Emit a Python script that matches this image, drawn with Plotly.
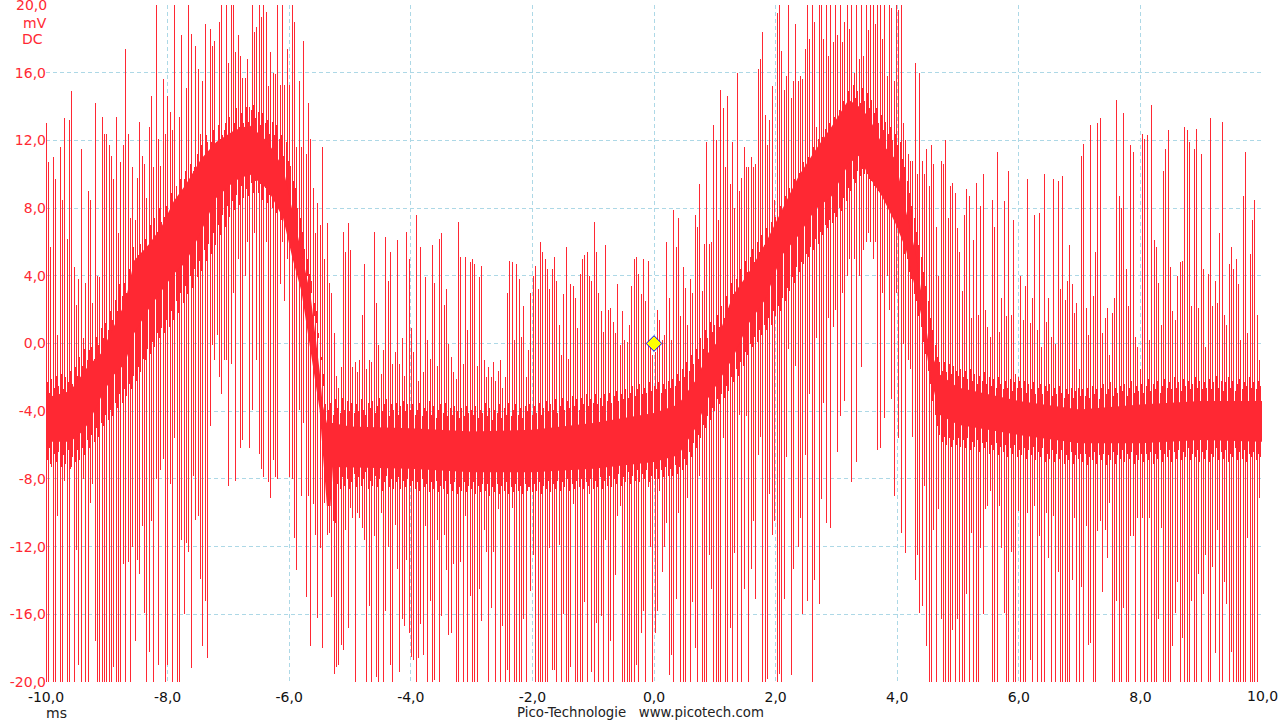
import numpy as np
import plotly.graph_objects as go

# spike upper tips, one list per millisecond, in mV (values above 20 run off the scale)
high_ms = [
 [13.0,10.7,5.7,11.0,9.7,0.5,11.6,8.5,13.3,6.2,13.2,14.9,4.5,2.3,3.8,11.5,0.3,3.6,9.0,8.5,2.4,14.2,4.0,3.9,13.4,12.4],
 [12.4,11.7,11.1,9.7,13.4,6.5,10.7,11.7,17.4,12.4,7.4,10.4,7.3,9.8,13.1,11.1,10.6,8.6,12.8,14.6,10.4,20.5,12.1,10.5,15.6,12.4],
 [14.6,13.7,12.6,20.5,8.1,13.4,18.2,9.7,15.1,20.5,18.3,10.2,17.6,16.2,12.4,15.5,18.9,11.9,18.6,17.6,17.9,11.3,19.0,20.5,12.6,20.5],
 [16.6,20.5,20.5,17.2,18.2,17.0,15.7,15.7,16.8,14.0,20.5,18.4,18.7,20.5,19.3,20.5,19.6,15.2,17.2,16.0,15.9,20.5,15.3,20.5,15.3,17.4],
 [15.3,20.5,19.0,11.6,15.5,11.6,17.9,11.2,14.2,12.1,9.2,6.5,8.3,7.0,11.6,5.0,7.1,3.6,3.0,0.6,-1.9,-2.6,-1.4,6.6,5.4,7.1],
 [5.5,-1.4,-1.1,-1.7,-1.0,1.7,4.7,-1.5,-1.0,-1.1,6.6,2.4,-0.1,-1.8,-0.4,6.3,3.7,5.4,-1.2,-0.5,6.1,-1.2,0.3,-1.9,6.6,5.0],
 [0.9,-0.5,7.6,-2.2,5.7,-1.7,3.9,0.2,-0.9,5.8,3.6,-1.3,6.2,6.5,2.3,3.2,0.0,-0.8,-1.7,-2.1,7.2,5.1,-1.2,5.1,0.8,4.8],
 [5.0,4.7,-1.3,3.9,4.6,-1.0,-2.0,-1.4,-2.0,-1.1,-2.2,-1.6,-1.0,-2.6,-2.0,3.0,4.9,4.8,0.2,4.7,3.8,0.4,2.2,-2.0,-0.4,3.0],
 [4.0,4.6,3.2,6.0,5.4,5.0,4.4,3.2,4.4,5.1,3.7,1.1,-0.7,2.9,5.7,-0.9,3.5,3.4,2.7,0.9,4.1,5.0,5.2,5.4,4.0,3.7],
 [7.2,5.4,3.0,1.9,0.7,5.8,2.0,2.1,1.3,0.6,3.5,-0.1,1.9,0.2,0.1,1.1,3.4,5.0,5.1,4.1,2.9,5.0,2.5,4.9,0.2,-0.7],
 [-0.5,2.0,1.4,0.2,0.5,6.0,2.7,0.2,7.9,5.7,7.4,1.6,4.5,3.3,1.1,3.8,3.0,7.6,6.9,9.4,3.1,5.9,11.9,5.9,6.0,12.9],
 [12.0,7.3,15.0,13.9,10.4,14.6,9.4,11.9,8.0,16.0,9.0,9.8,11.6,10.4,10.4,11.0,10.4,10.6,16.2,16.8,18.4,13.5,11.7,13.2,15.2,8.5],
 [19.5,20.5,17.3,15.0,15.8,20.5,14.5,15.5,18.9,15.5,15.8,15.6,17.4,20.5,18.0,20.5,19.0,12.8,20.5,20.5,18.0,20.5,17.0,20.5,17.8,20.5],
 [18.2,20.5,17.8,19.0,20.5,18.6,20.5,16.0,20.5,16.8,20.5,17.0,20.5,18.5,20.5,20.5,18.9,20.5,20.5,18.0,20.5,15.8,20.5,19.8,15.5,20.5],
 [19.7,20.0,13.0,12.0,11.2,10.8,10.8,16.6,10.0,16.0,10.8,10.0,11.5,9.3,11.7,10.6,6.9,4.0,10.8,10.6,12.0,7.4,9.3,9.5,8.9,6.8],
 [5.4,3.1,7.6,9.1,8.7,1.5,6.1,9.5,1.7,8.1,10.0,2.0,1.0,0.4,8.5,6.9,11.3,0.7,2.7,8.4,1.6,10.2,1.7,7.3,-1.8,-2.0],
 [4.0,1.4,3.4,9.7,1.2,2.7,7.6,0.8,7.7,-0.2,10.0,1.3,2.7,0.4,9.7,0.0,9.6,3.2,9.9,2.6,3.7,5.8,3.5,1.8,2.4,-1.5],
 [11.1,11.8,2.1,0.5,12.9,2.8,5.4,13.0,13.3,0.6,1.5,2.1,-0.7,1.8,2.7,14.4,8.7,8.0,13.6,4.4,2.2,11.7,11.3,0.4,-0.2,-1.5],
 [12.4,12.1,12.3,0.2,14.1,6.1,5.7,3.6,1.1,10.2,11.5,12.6,4.5,1.9,1.4,4.0,4.8,4.9,12.8,12.6,11.9,2.2,11.5,12.7,2.1,11.2],
 [4.4,-0.2,4.1,13.3,2.2,3.7,2.4,6.5,13.1,1.7,1.1,4.7,5.7,4.4,5.0,3.5,0.2,8.7,11.3,0.6,5.3,7.3,8.5,1.7,-1.0,1.7],
]
# spike lower tips, one list per millisecond, in mV
low_ms = [
 [-20.5,-20.5,-7.1,-20.5,-20.5,-10.2,-20.5,-20.5,-8.1,-20.5,-20.5,-7.3,-20.5,-12.2,-19.0,-20.5,-8.0,-20.5,-20.5,-9.4,-8.3,-17.6,-20.5,-20.5,-20.5,-20.5],
 [-20.5,-20.5,-20.5,-19.1,-20.5,-20.5,-20.5,-13.0,-20.5,-12.9,-20.5,-12.0,-17.6,-12.8,-13.6,-10.8,-15.9,-20.5,-18.2,-10.5,-20.5,-8.0,-19.0,-7.5,-6.8,-20.5],
 [-19.0,-8.3,-20.5,-5.6,-20.5,-20.5,-11.6,-16.0,-11.8,-12.3,-19.2,-7.8,-10.4,-10.2,-13.9,-17.9,-15.2,-18.6,-4.9,-0.1,-1.0,0.5,-2.0,-3.0,-1.0,-1.0],
 [-8.4,-1.2,3.0,-8.1,5.0,-6.2,-5.7,4.0,6.0,-6.2,-3.9,6.5,-1.0,-6.5,-7.4,-7.9,6.0,-8.2,-9.1,-6.9,-7.9,-8.0,3.5,6.0,2.5,5.0],
 [-7.9,-8.0,-11.5,-13.4,-3.9,-9.0,-4.7,-15.0,-9.0,-17.9,-9.5,-11.3,-16.2,-12.1,-18.0,-9.4,-11.3,-11.2,-15.0,-19.5,-19.1,-19.0,-17.8,-18.1,-11.0,-16.8],
 [-9.7,-10.3,-20.5,-10.0,-10.3,-10.9,-11.6,-20.5,-15.5,-20.5,-11.4,-19.7,-20.5,-10.0,-20.5,-15.8,-12.0,-19.0,-20.5,-10.7,-13.3,-19.4,-16.3,-16.7,-12.8,-17.1],
 [-18.5,-18.7,-20.5,-18.6,-16.6,-18.4,-10.8,-20.5,-15.2,-20.5,-19.9,-11.6,-20.5,-16.1,-11.3,-13.4,-17.2,-17.1,-13.0,-20.5,-20.5,-12.9,-20.5,-10.2,-20.5,-14.9],
 [-20.5,-20.5,-20.5,-14.5,-16.4,-11.0,-12.3,-20.5,-15.6,-12.3,-20.5,-9.8,-20.5,-16.7,-20.5,-19.3,-20.5,-9.7,-20.5,-20.5,-20.5,-20.5,-16.3,-20.5,-8.5,-14.6],
 [-12.5,-20.5,-20.5,-20.5,-20.5,-20.5,-20.5,-12.1,-19.3,-19.3,-20.5,-11.9,-20.5,-16.0,-20.5,-20.5,-19.1,-9.5,-20.5,-20.5,-20.5,-20.5,-15.3,-20.5,-8.9,-19.4],
 [-20.5,-16.5,-20.5,-16.1,-20.5,-11.6,-20.5,-17.6,-20.5,-13.7,-10.2,-9.6,-20.5,-20.5,-20.5,-20.5,-20.5,-20.5,-19.0,-20.5,-17.1,-15.8,-20.5,-8.5,-12.0,-20.5],
 [-17.1,-15.8,-8.7,-13.5,-12.0,-10.6,-19.6,-18.4,-20.5,-15.1,-10.0,-20.5,-20.5,-20.5,-9.1,-20.5,-15.3,-18.0,-20.5,-7.8,-20.5,-20.5,-20.5,-12.5,-14.5,-20.5],
 [-20.5,-20.5,-20.5,-5.6,-20.5,-20.5,-16.8,-20.5,-12.4,-20.5,-4.2,-20.5,-14.5,-4.3,-20.5,-13.3,-10.5,-15.1,-6.6,-5.5,-20.5,-20.5,-19.8,-8.9,-11.3,-10.5],
 [-20.5,-19.5,-20.5,-15.1,-6.7,-0.3,-19.6,-13.3,-1.3,-12.0,-10.3,-16.0,-6.6,-15.2,-3.0,-20.5,-14.0,0.3,-15.4,-9.2,-3.5,-10.6,1.5,-10.9,1.0,2.0],
 [-6.4,-4.3,3.0,-3.4,4.0,5.0,-8.2,5.0,-7.0,4.0,-1.4,5.5,6.0,6.5,6.0,5.0,6.0,-6.3,-6.2,3.0,-4.4,4.0,2.0,-3.3,-9.0,3.0],
 [-5.6,-11.2,0.0,-12.4,-1.0,-1.5,-5.5,-14.0,-12.5,-15.9,-15.5,-8.4,-17.9,-20.5,-20.5,-11.0,-20.5,-9.8,-16.3,-20.5,-20.5,-20.5,-20.5,-16.9,-20.5,-16.3],
 [-20.5,-20.3,-20.5,-14.8,-20.5,-11.2,-20.5,-20.5,-20.5,-12.1,-16.0,-9.8,-9.6,-8.7,-20.5,-20.5,-20.5,-9.6,-12.1,-15.9,-20.5,-20.5,-12.3,-20.5,-20.5,-9.9],
 [-20.5,-20.5,-20.5,-10.0,-18.7,-20.5,-9.6,-20.5,-11.4,-20.5,-20.5,-10.0,-12.7,-20.5,-10.2,-20.5,-13.5,-20.5,-20.5,-20.5,-20.5,-20.5,-14.0,-10.3,-20.5,-20.5],
 [-14.4,-20.5,-10.8,-17.8,-17.7,-20.5,-20.5,-11.1,-10.5,-14.7,-11.0,-12.7,-9.4,-20.5,-20.5,-15.2,-20.5,-20.5,-15.6,-20.5,-20.5,-11.4,-11.4,-20.5,-10.3,-20.5],
 [-10.3,-20.5,-20.5,-10.3,-20.5,-20.5,-20.5,-16.3,-10.9,-20.5,-20.5,-20.5,-20.5,-17.9,-15.9,-14.1,-20.5,-17.4,-20.5,-20.5,-20.5,-15.2,-20.5,-20.5,-13.6,-20.5],
 [-14.8,-12.5,-20.5,-20.5,-13.2,-18.3,-11.0,-20.5,-20.5,-14.1,-15.4,-20.5,-18.2,-20.5,-20.5,-20.5,-20.5,-20.5,-20.5,-11.5,-20.5,-20.5,-20.5,-20.5,-9.1,-9.1],
]
# jagged top edge of the dense centre, one list per millisecond, in mV
edge_top_ms = [
 [-2.3,-2.9,-2.1,-2.6,-1.9,-2.5,-1.8,-2.7,-2.0,-2.3,-1.6,-2.4,-1.4,-1.9,-0.8,-1.3,-0.3,-1.0,-0.4,-0.2,-0.9,0.4,-0.1,0.9,0.3,1.2],
 [0.8,1.9,1.4,2.6,1.9,3.5,2.8,3.6,3.0,4.4,3.7,5.7,4.9,5.2,5.9,4.9,6.2,5.5,7.0,6.1,7.4,6.6,8.0,7.2,7.5,8.1],
 [7.4,8.9,7.9,9.3,8.5,9.7,9.0,10.2,9.4,10.6,9.8,10.4,11.2,10.3,11.7,10.7,12.3,11.2,11.9,12.6,11.4,12.9,12.1,12.3,13.0,12.2],
 [13.4,12.5,13.0,13.9,12.8,13.6,13.0,14.0,13.1,13.8,14.1,13.3,13.7,12.9,13.6,13.0,13.2,12.4,13.1,12.3,12.9,12.1,12.3,11.1,11.9,10.8],
 [10.5,9.6,9.2,8.0,7.4,6.6,5.6,5.0,4.1,3.7,2.4,1.2,0.3,-1.0,-2.5,-3.6,-3.9,-3.5,-4.2,-3.3,-3.8,-4.1,-3.2,-3.9,-3.4,-4.0],
 [-3.5,-4.1,-3.6,-4.0,-3.3,-3.9,-4.2,-3.5,-3.8,-3.4,-4.1,-3.7,-3.2,-4.0,-3.6,-3.3,-4.3,-3.6,-3.9,-3.5,-4.2,-3.7,-3.4,-4.0,-3.6,-3.9],
 [-3.6,-4.2,-3.9,-3.5,-4.3,-3.8,-4.0,-3.4,-4.2,-3.7,-4.4,-3.9,-3.6,-4.1,-3.5,-4.3,-3.8,-4.2,-3.7,-4.0,-4.4,-3.8,-4.3,-3.7,-4.1,-3.9],
 [-4.2,-3.7,-4.4,-3.9,-4.1,-3.5,-4.3,-3.8,-4.5,-3.9,-4.1,-3.6,-4.4,-3.8,-4.2,-3.5,-4.3,-3.9,-3.6,-4.2,-3.8,-4.4,-3.7,-4.0,-3.6,-4.2],
 [-3.7,-4.1,-3.5,-4.2,-3.8,-3.4,-4.0,-3.6,-3.9,-3.3,-4.1,-3.7,-3.2,-3.9,-3.4,-3.8,-3.1,-3.7,-3.3,-3.9,-3.2,-3.6,-3.0,-3.7,-3.3,-3.5],
 [-3.0,-3.6,-3.2,-3.7,-3.0,-3.4,-2.9,-3.5,-3.1,-2.8,-3.4,-3.0,-3.3,-2.7,-3.2,-2.9,-2.5,-3.1,-2.7,-2.4,-3.0,-2.6,-2.9,-2.3,-2.8,-2.5],
 [-2.7,-2.3,-2.9,-2.4,-2.7,-2.2,-2.6,-2.1,-2.5,-1.8,-2.2,-1.5,-2.0,-1.1,-1.6,-0.7,-1.2,-0.3,-0.9,0.3,-0.3,0.8,0.3,1.3,0.7,1.1],
 [1.7,1.0,2.2,1.5,2.8,2.1,3.6,2.9,3.8,3.2,4.4,3.7,4.9,4.2,5.1,5.6,4.8,6.0,5.4,6.4,5.8,6.8,6.1,7.2,6.6,7.5],
 [7.0,8.1,7.4,8.7,8.0,9.2,8.5,9.7,9.0,10.1,9.5,10.7,10.0,11.0,10.4,11.6,10.9,12.1,11.4,12.2,12.7,11.9,13.0,12.4,13.4,12.8],
 [13.8,13.2,14.3,13.6,14.9,14.2,15.3,14.5,14.9,14.2,15.1,14.3,14.8,13.9,14.4,13.6,13.9,13.0,13.5,12.6,13.1,12.4,12.8,12.0,12.4,11.7],
 [11.9,10.9,10.4,9.6,8.9,8.1,7.4,6.6,5.8,5.1,4.2,3.4,2.5,1.5,0.8,-0.1,-0.8,-1.1,-1.6,-1.1,-1.7,-1.2,-1.8,-1.3,-1.6,-1.9],
 [-1.5,-2.0,-1.6,-2.1,-1.5,-2.2,-1.8,-2.4,-1.9,-2.2,-1.7,-2.4,-2.0,-2.5,-2.1,-2.6,-2.0,-2.4,-2.7,-2.2,-2.6,-2.1,-2.8,-2.3,-2.6,-2.2],
 [-2.6,-2.2,-2.9,-2.4,-2.7,-2.3,-3.0,-2.6,-2.4,-3.0,-2.5,-2.8,-2.4,-3.1,-2.6,-3.0,-2.5,-2.9,-3.2,-2.7,-3.0,-2.6,-3.2,-2.8,-2.6,-3.1],
 [-2.7,-3.1,-2.6,-3.2,-2.5,-3.0,-2.7,-3.3,-2.6,-2.4,-3.0,-2.7,-2.3,-3.1,-2.6,-2.9,-2.5,-2.8,-2.4,-3.1,-2.6,-2.2,-2.9,-2.5,-2.8,-2.4],
 [-2.9,-2.5,-2.1,-2.8,-2.4,-2.7,-2.2,-2.9,-2.5,-2.1,-2.6,-2.3,-2.7,-2.0,-2.6,-2.3,-2.8,-2.1,-2.5,-2.2,-2.7,-2.4,-2.0,-2.6,-2.2,-2.7],
 [-2.3,-2.6,-2.1,-2.7,-2.3,-1.9,-2.6,-2.2,-2.8,-2.3,-2.0,-2.6,-2.2,-2.8,-2.4,-2.1,-2.7,-2.3,-2.5,-2.0,-2.6,-2.3,-2.7,-2.2,-2.5,-2.4],
]
# jagged bottom edge of the dense centre, one list per millisecond, in mV
edge_bot_ms = [
 [-6.9,-6.2,-7.3,-6.5,-7.0,-6.4,-7.3,-6.6,-7.1,-6.3,-7.4,-6.7,-7.0,-6.3,-6.9,-6.2,-6.6,-5.7,-6.2,-5.4,-5.8,-5.0,-5.5,-4.7,-4.9,-4.2],
 [-4.5,-3.9,-4.3,-3.5,-3.8,-3.0,-3.5,-2.7,-3.1,-2.4,-2.7,-1.9,-2.2,-1.4,-1.7,-0.9,-1.0,-0.3,-0.6,0.1,-0.2,0.6,0.3,0.9,0.6,1.4],
 [1.0,1.9,1.4,2.5,1.8,3.0,2.4,3.4,2.9,4.0,3.3,4.4,3.9,4.9,4.3,5.5,4.9,5.9,5.3,6.5,5.8,7.0,6.4,7.6,6.9,8.1],
 [7.5,8.4,7.9,8.8,8.2,9.3,8.6,9.1,8.7,9.5,8.9,9.6,8.9,9.4,8.5,9.2,8.3,8.8,8.0,8.6,7.7,8.2,7.3,7.9,6.9,7.3],
 [6.2,6.6,5.5,5.9,4.6,5.0,3.6,4.0,2.7,3.0,1.6,1.9,0.6,-0.8,-1.8,-4.5,-6.0,-8.0,-10.5,-10.6,-8.3,-8.6,-7.9,-8.4,-8.0,-8.6],
 [-8.2,-7.7,-8.5,-7.9,-8.4,-8.0,-7.6,-8.6,-8.1,-8.4,-7.8,-8.5,-8.0,-8.7,-8.2,-7.8,-8.5,-8.0,-8.6,-8.2,-7.9,-8.6,-8.1,-8.5,-8.0,-8.4],
 [-8.1,-8.6,-8.2,-8.7,-8.0,-8.5,-8.3,-8.8,-8.2,-8.6,-8.1,-8.8,-8.4,-8.6,-8.1,-8.9,-8.3,-8.7,-8.2,-8.9,-8.5,-8.7,-8.2,-8.8,-8.4,-8.6],
 [-8.2,-8.9,-8.4,-8.8,-8.3,-8.7,-8.3,-9.0,-8.5,-8.8,-8.3,-8.9,-8.4,-8.7,-8.2,-8.9,-8.5,-8.8,-8.3,-8.7,-8.4,-8.9,-8.3,-8.7,-8.5,-8.8],
 [-8.3,-8.7,-8.2,-8.9,-8.4,-8.6,-8.1,-8.8,-8.3,-8.6,-8.1,-8.7,-8.2,-8.5,-8.0,-8.7,-8.3,-8.6,-8.1,-8.5,-8.0,-8.6,-8.2,-8.4,-8.0,-8.6],
 [-8.1,-8.5,-7.9,-8.6,-8.1,-8.4,-7.8,-8.5,-8.0,-8.3,-7.7,-8.4,-7.9,-8.2,-7.6,-8.3,-7.8,-8.1,-7.5,-8.2,-7.7,-8.0,-7.5,-8.2,-7.8,-8.0],
 [-7.4,-8.0,-7.5,-7.9,-7.3,-7.8,-7.4,-7.8,-7.2,-7.7,-7.3,-7.5,-6.8,-7.2,-6.4,-6.7,-5.9,-6.2,-5.4,-5.6,-4.8,-5.0,-4.3,-4.5,-3.8,-4.0],
 [-3.3,-3.6,-3.0,-3.2,-2.5,-2.8,-2.0,-2.3,-1.5,-1.9,-1.1,-1.3,-0.5,-0.7,0.0,-0.2,0.4,0.1,0.8,0.5,1.1,0.8,1.5,1.1,1.9,1.6],
 [2.2,1.9,2.7,2.5,3.3,3.1,3.9,3.6,4.5,4.2,4.8,4.7,5.3,5.1,5.7,5.5,6.2,5.9,6.6,6.4,7.0,6.8,7.3,7.1,7.7,7.5],
 [8.0,7.8,8.6,8.4,9.2,9.0,9.7,9.5,10.2,9.9,10.3,10.0,10.0,9.7,9.6,9.3,9.4,9.0,8.9,8.6,8.4,8.1,7.9,7.6,7.3,7.0],
 [6.5,6.2,5.3,5.0,4.2,3.8,2.9,2.5,1.6,1.0,0.1,-0.6,-1.6,-2.4,-3.4,-4.2,-4.9,-5.4,-5.8,-5.5,-6.0,-5.6,-6.1,-5.7,-6.0,-5.6],
 [-6.1,-5.7,-6.2,-5.6,-6.3,-5.8,-6.1,-5.7,-6.4,-5.9,-6.2,-5.8,-6.5,-6.0,-6.3,-5.9,-6.6,-6.1,-6.4,-6.0,-6.7,-6.2,-6.5,-6.0,-6.7,-6.3],
 [-6.6,-6.2,-6.8,-6.3,-6.6,-6.1,-6.9,-6.4,-6.7,-6.2,-7.0,-6.5,-6.8,-6.3,-7.0,-6.5,-6.8,-6.3,-7.1,-6.6,-6.9,-6.4,-7.1,-6.6,-6.8,-6.5],
 [-7.0,-6.5,-7.2,-6.7,-6.9,-6.4,-7.1,-6.6,-6.9,-6.5,-7.2,-6.6,-6.9,-6.4,-7.1,-6.6,-6.8,-6.3,-7.0,-6.5,-6.8,-6.4,-7.1,-6.6,-6.9,-6.5],
 [-7.0,-6.5,-6.9,-6.4,-7.1,-6.5,-6.8,-6.3,-7.0,-6.5,-6.7,-6.3,-7.0,-6.4,-6.8,-6.3,-6.9,-6.4,-6.7,-6.2,-6.9,-6.5,-6.7,-6.3,-7.0,-6.4],
 [-6.8,-6.3,-7.0,-6.5,-6.7,-6.2,-6.9,-6.4,-6.8,-6.3,-7.0,-6.5,-6.7,-6.2,-6.9,-6.4,-6.8,-6.3,-7.0,-6.5,-6.7,-6.4,-6.9,-6.5,-6.7,-6.5],
]
# solid core of the trace: time (ms), top (mV), bottom (mV)
core_t = [-10,-9.6,-9.4,-9.3,-9.1,-8.9,-8.7,-8.55,-8.3,-8.1,-7.9,-7.7,-7.45,-7.2,-6.9,-6.65,-6.35,-6.1,-5.95,-5.8,-5.65,-5.5,-5.45,-5.38,-5.32,-5.28,-5,-4,-3,-2,-1,0,0.4,0.7,0.88,1.02,1.29,1.56,1.83,2.1,2.38,2.65,2.92,3.2,3.37,3.53,3.75,3.97,4.14,4.3,4.4,4.52,4.69,5,6,7,8,9,10]
core_top = [-3.2,-2.8,-1.8,-1.3,-0.6,0.9,2.4,4.9,5.9,6.9,8.4,9.4,10.9,11.9,12.6,12.9,11.9,10.4,7.9,5.4,2.9,-1.6,-3.6,-4.7,-4.7,-4.7,-4.9,-5.0,-5.2,-5.1,-4.7,-4.1,-3.6,-2.1,-0.6,0.0,2.8,4.2,5.9,7.9,9.9,11.4,12.8,14.4,14.0,13.4,11.8,10.9,7.9,5.4,3.0,-0.1,-1.8,-2.6,-3.4,-3.9,-3.6,-3.4,-3.4]
core_bot = [-5.8,-5.8,-5.2,-4.7,-3.2,-1.9,-1.2,0.6,2.1,3.1,4.1,4.8,6.6,8.6,9.6,10.0,9.1,7.4,5.1,3.1,-0.4,-3.9,-6.3,-9.6,-9.6,-7.3,-7.3,-7.4,-7.6,-7.6,-7.4,-7.0,-6.6,-4.9,-3.3,-2.5,-0.9,1.2,2.6,5.2,6.4,7.9,8.7,10.6,11.1,9.9,8.7,7.1,5.6,3.2,1.6,-1.4,-4.2,-4.8,-5.4,-5.9,-5.9,-5.7,-5.8]

x_ticks = [-10,-8,-6,-4,-2,0,2,4,6,8,10]
x_labels = ["-10,0","-8,0","-6,0","-4,0","-2,0","0,0","2,0","4,0","6,0","8,0",""]
y_ticks = [20,16,12,8,4,0,-4,-8,-12,-16,-20]
y_labels = ["","16,0","12,0","8,0","4,0","0,0","-4,0","-8,0","-12,0","-16,0","-20,0"]

RED = "#ff2833"
high = [v for chunk in high_ms for v in chunk]
low = [v for chunk in low_ms for v in chunk]
edge_top = [v for chunk in edge_top_ms for v in chunk]
edge_bot = [v for chunk in edge_bot_ms for v in chunk]
assert len(high) == len(low) == len(edge_top) == len(edge_bot), (len(high), len(low), len(edge_top), len(edge_bot))
t = np.linspace(-10, 10, len(high))
pitch = t[1] - t[0]


def columns(times, bottoms, tops):
    xs, ys = [], []
    for ti, a, b in zip(times, bottoms, tops):
        xs += [ti, ti, None]
        ys += [a, b, None]
    return xs, ys


sx, sy = columns(t, low, high)
ex, ey = columns(t[:-1] + pitch / 2, edge_bot, edge_top)

fig = go.Figure()
fig.add_trace(go.Scatter(x=sx, y=sy, mode="lines", line=dict(color=RED, width=1),
                         hoverinfo="skip", showlegend=False))
fig.add_trace(go.Scatter(x=ex, y=ey, mode="lines", line=dict(color=RED, width=1),
                         hoverinfo="skip", showlegend=False))
fig.add_trace(go.Scatter(x=core_t + core_t[::-1], y=core_top + core_bot[::-1], mode="lines",
                         fill="toself", fillcolor=RED, line=dict(color=RED, width=0),
                         hoverinfo="skip", showlegend=False))
fig.add_trace(go.Scatter(x=[0], y=[0], mode="markers",
                         marker=dict(symbol="diamond", size=12, color="#ffff00",
                                     line=dict(color="#0000ff", width=1)),
                         hoverinfo="skip", showlegend=False))

fig.update_layout(
    width=1280, height=720, autosize=False,
    margin=dict(l=45.6, r=18, t=5, b=37.5, pad=0),
    paper_bgcolor="white", plot_bgcolor="white",
    font=dict(family="DejaVu Sans", size=14),
    showlegend=False,
    xaxis=dict(range=[-10, 10], tickmode="array", tickvals=x_ticks, ticktext=x_labels,
               tickfont=dict(color="#111111", size=14), showgrid=True, gridcolor="#add8e6",
               griddash="4px,3px", gridwidth=1, zeroline=False, showline=False, ticks="",
               ticklabelstandoff=5),
    yaxis=dict(range=[-20, 20], tickmode="array", tickvals=y_ticks, ticktext=y_labels,
               tickfont=dict(color=RED, size=14), showgrid=True, gridcolor="#add8e6",
               griddash="4px,3px", gridwidth=1, zeroline=False, showline=False, ticks="",
               ticklabelstandoff=-1),
    annotations=[
        dict(text="20,0", xref="paper", yref="paper", x=0.0, y=1.0, xanchor="right", yanchor="middle",
             showarrow=False, font=dict(color=RED, size=14), xshift=3),
        dict(text="10,0", xref="paper", yref="paper", x=1.0, y=-0.0214, xanchor="center", yanchor="middle",
             showarrow=False, font=dict(color="#111111", size=14)),
        dict(text="mV", xref="paper", yref="paper", x=0.0, y=0.9734, xanchor="right", yanchor="middle",
             showarrow=False, font=dict(color=RED, size=14), xshift=3),
        dict(text="DC", xref="paper", yref="paper", x=0.0, y=0.9498, xanchor="right", yanchor="middle",
             showarrow=False, font=dict(color=RED, size=14), xshift=-1),
        dict(text="ms", xref="paper", yref="paper", x=0.0, y=-0.0455, xanchor="left", yanchor="middle",
             showarrow=False, font=dict(color="#222222", size=14), xshift=-2),
        dict(text="Pico-Technologie\u00a0\u00a0\u00a0www.picotech.com", xref="paper", yref="paper",
             x=0.4885, y=-0.0455, xanchor="center", yanchor="middle",
             showarrow=False, font=dict(color="#222222", size=13.3)),
    ],
)
fig.write_html(
    "out.html",
    config={"displayModeBar": False},
    post_script="document.body.style.margin='0';"
                "document.querySelectorAll('.scatterlayer .js-line').forEach(function(p){p.style.shapeRendering='crispEdges';});",
)
